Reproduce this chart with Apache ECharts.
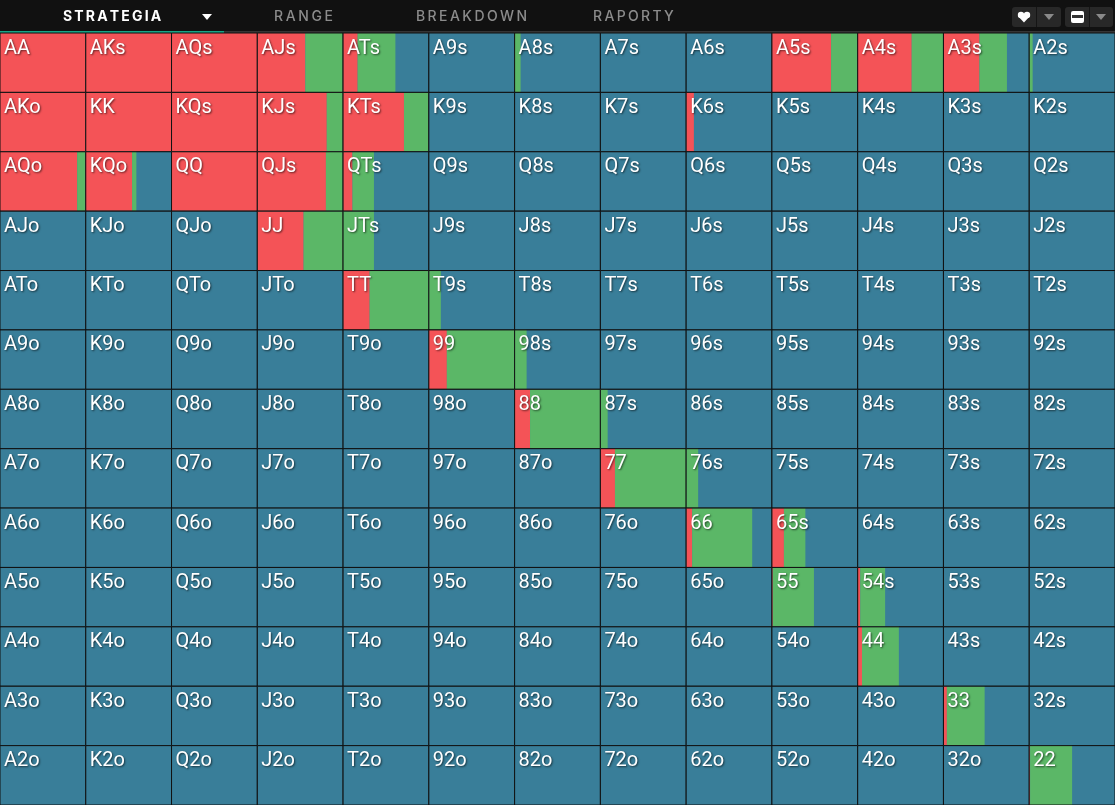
<!DOCTYPE html>
<html>
<head>
<meta charset="utf-8">
<script src="https://cdn.jsdelivr.net/npm/echarts@6/dist/echarts.min.js"></script>
<style>
  html, body { margin: 0; padding: 0; background: #111; }
  #chart { width: 1115px; height: 805px; }
</style>
</head>
<body>
<div id="chart"></div>
<script>
var ranks = ['A', 'K', 'Q', 'J', 'T', '9', '8', '7', '6', '5', '4', '3', '2'];
var tabs = ['STRATEGIA', 'RANGE', 'BREAKDOWN', 'RAPORTY'];

// częstotliwości: raise (czerwony) i call (zielony), reszta to fold
var raise = [
    [1, 1, 1, 0.56, 0.17, 0, 0, 0, 0, 0.69, 0.63, 0.42, 0],
    [1, 1, 1, 0.81, 0.71, 0, 0, 0, 0.09, 0, 0, 0, 0],
    [0.9, 0.54, 1, 0.8, 0.11, 0, 0, 0, 0, 0, 0, 0, 0],
    [0, 0, 0, 0.54, 0, 0, 0, 0, 0, 0, 0, 0, 0],
    [0, 0, 0, 0, 0.31, 0, 0, 0, 0, 0, 0, 0, 0],
    [0, 0, 0, 0, 0, 0.21, 0, 0, 0, 0, 0, 0, 0],
    [0, 0, 0, 0, 0, 0, 0.18, 0, 0, 0, 0, 0, 0],
    [0, 0, 0, 0, 0, 0, 0, 0.17, 0, 0, 0, 0, 0],
    [0, 0, 0, 0, 0, 0, 0, 0, 0.07, 0.14, 0, 0, 0],
    [0, 0, 0, 0, 0, 0, 0, 0, 0, 0.01, 0.03, 0, 0],
    [0, 0, 0, 0, 0, 0, 0, 0, 0, 0, 0.05, 0, 0],
    [0, 0, 0, 0, 0, 0, 0, 0, 0, 0, 0, 0.04, 0],
    [0, 0, 0, 0, 0, 0, 0, 0, 0, 0, 0, 0, 0.01]
];
var call = [
    [0, 0, 0, 0.44, 0.44, 0, 0.07, 0, 0, 0.31, 0.37, 0.32, 0.04],
    [0, 0, 0, 0.19, 0.29, 0, 0, 0, 0, 0, 0, 0, 0],
    [0.1, 0.05, 0, 0.2, 0.25, 0, 0, 0, 0, 0, 0, 0, 0],
    [0, 0, 0, 0.46, 0.36, 0, 0, 0, 0, 0, 0, 0, 0],
    [0, 0, 0, 0, 0.69, 0.14, 0, 0, 0, 0, 0, 0, 0],
    [0, 0, 0, 0, 0, 0.79, 0.14, 0, 0, 0, 0, 0, 0],
    [0, 0, 0, 0, 0, 0, 0.82, 0.085, 0, 0, 0, 0, 0],
    [0, 0, 0, 0, 0, 0, 0, 0.83, 0.14, 0, 0, 0, 0],
    [0, 0, 0, 0, 0, 0, 0, 0, 0.7, 0.25, 0, 0, 0],
    [0, 0, 0, 0, 0, 0, 0, 0, 0, 0.48, 0.29, 0, 0],
    [0, 0, 0, 0, 0, 0, 0, 0, 0, 0, 0.43, 0, 0],
    [0, 0, 0, 0, 0, 0, 0, 0, 0, 0, 0, 0.44, 0],
    [0, 0, 0, 0, 0, 0, 0, 0, 0, 0, 0, 0, 0.49]
];

var RED = '#f45357';
var GREEN = '#5bb767';
var BLUE = '#397e99';

function handName(r, c) {
    if (r == c) return ranks[r] + ranks[c];
    if (c > r) return ranks[r] + ranks[c] + 's';
    return ranks[c] + ranks[r] + 'o';
}

var cells = [];
for (var r = 0; r < 13; r++) {
    for (var c = 0; c < 13; c++) {
        cells.push([c, r, raise[r][c], call[r][c], handName(r, c)]);
    }
}

var chart = echarts.init(document.getElementById('chart'));

function tri(cx, cy, fill) {
    return {
        type: 'polygon',
        shape: { points: [[cx - 5, cy - 3], [cx + 5, cy - 3], [cx, cy + 3]] },
        style: { fill: fill }
    };
}

var header = [
    { type: 'rect', shape: { x: 0, y: 0, width: 1115, height: 33 }, style: { fill: '#111' } },
    { type: 'rect', shape: { x: 0, y: 31, width: 1115, height: 2 }, style: { fill: '#353535' } },
    { type: 'rect', shape: { x: 0, y: 31, width: 224, height: 2 }, style: { fill: '#17a386' } },
    tri(207, 17, '#fff'),
    // przyciski po prawej
    { type: 'rect', shape: { x: 1012, y: 7, width: 49, height: 20, r: 3 }, style: { fill: '#282828' } },
    { type: 'rect', shape: { x: 1036, y: 7, width: 1, height: 20 }, style: { fill: '#151515' } },
    // serce: dwa kółka + trójkąt
    { type: 'circle', shape: { cx: 1021, cy: 15, r: 3.2 }, style: { fill: '#fff' } },
    { type: 'circle', shape: { cx: 1027, cy: 15, r: 3.2 }, style: { fill: '#fff' } },
    { type: 'polygon', shape: { points: [[1017.9, 16], [1030.1, 16], [1024, 22.5]] }, style: { fill: '#fff' } },
    tri(1049, 17, '#8a8a8a'),
    { type: 'rect', shape: { x: 1065, y: 7, width: 48, height: 20, r: 3 }, style: { fill: '#282828' } },
    { type: 'rect', shape: { x: 1089, y: 7, width: 1, height: 20 }, style: { fill: '#151515' } },
    { type: 'rect', shape: { x: 1071, y: 11, width: 13, height: 12, r: 2 }, style: { fill: '#fff' } },
    { type: 'rect', shape: { x: 1072, y: 15, width: 11, height: 3 }, style: { fill: '#333' } },
    tri(1101, 17, '#8a8a8a')
];

// zakładki z rozstrzelonymi literami (echarts nie ma letterSpacing)
var tabStart = [63, 274, 416, 593];
var tabEnd = [160, 333, 527, 674];
var ctx = document.createElement('canvas').getContext('2d');
tabs.forEach(function (t, i) {
    var weight = i == 0 ? 'bold' : '500';
    ctx.font = weight + ' 14px Inter';
    var total = ctx.measureText(t).width;
    var gap = (tabEnd[i] - tabStart[i] - total) / (t.length - 1);
    var x = tabStart[i];
    for (var k = 0; k < t.length; k++) {
        header.push({
            type: 'text',
            style: {
                text: t[k], x: x, y: 17,
                fill: i == 0 ? '#fff' : '#8c8c8c',
                fontSize: 14, fontWeight: weight,
                fontFamily: 'Inter', verticalAlign: 'middle'
            }
        });
        x += ctx.measureText(t[k]).width + gap;
    }
});

chart.setOption({
    animation: false,
    backgroundColor: '#111',
    grid: { left: 0, right: 0, top: 33, bottom: 0 },
    xAxis: { type: 'value', min: 0, max: 13, interval: 1, show: false },
    yAxis: { type: 'value', min: 0, max: 13, interval: 1, inverse: true, show: false },
    graphic: header,
    series: [{
        type: 'custom',
        data: cells,
        renderItem: function (params, api) {
            var p = api.coord([api.value(0), api.value(1)]);
            var s = api.size([1, 1]);
            var w = s[0], h = s[1];
            var rw = w * api.value(2);
            var cw = w * api.value(3);
            var name = cells[params.dataIndex][4];
            return {
                type: 'group',
                children: [
                    { type: 'rect', shape: { x: p[0], y: p[1], width: w, height: h }, style: { fill: BLUE } },
                    { type: 'rect', shape: { x: p[0], y: p[1], width: rw, height: h }, style: { fill: RED } },
                    { type: 'rect', shape: { x: p[0] + rw, y: p[1], width: cw, height: h }, style: { fill: GREEN } },
                    { type: 'rect', shape: { x: p[0], y: p[1], width: w, height: h }, style: { fill: 'none', stroke: '#111', lineWidth: 1 } },
                    {
                        type: 'text',
                        style: {
                            text: name, x: p[0] + 4, y: p[1] + 5.5,
                            fill: '#fff', fontSize: 20, fontFamily: 'Roboto',
                            textShadowColor: 'rgba(0,0,0,0.6)', textShadowBlur: 2,
                            textShadowOffsetX: 1, textShadowOffsetY: 1
                        }
                    }
                ]
            };
        }
    }]
});
</script>
</body>
</html>
